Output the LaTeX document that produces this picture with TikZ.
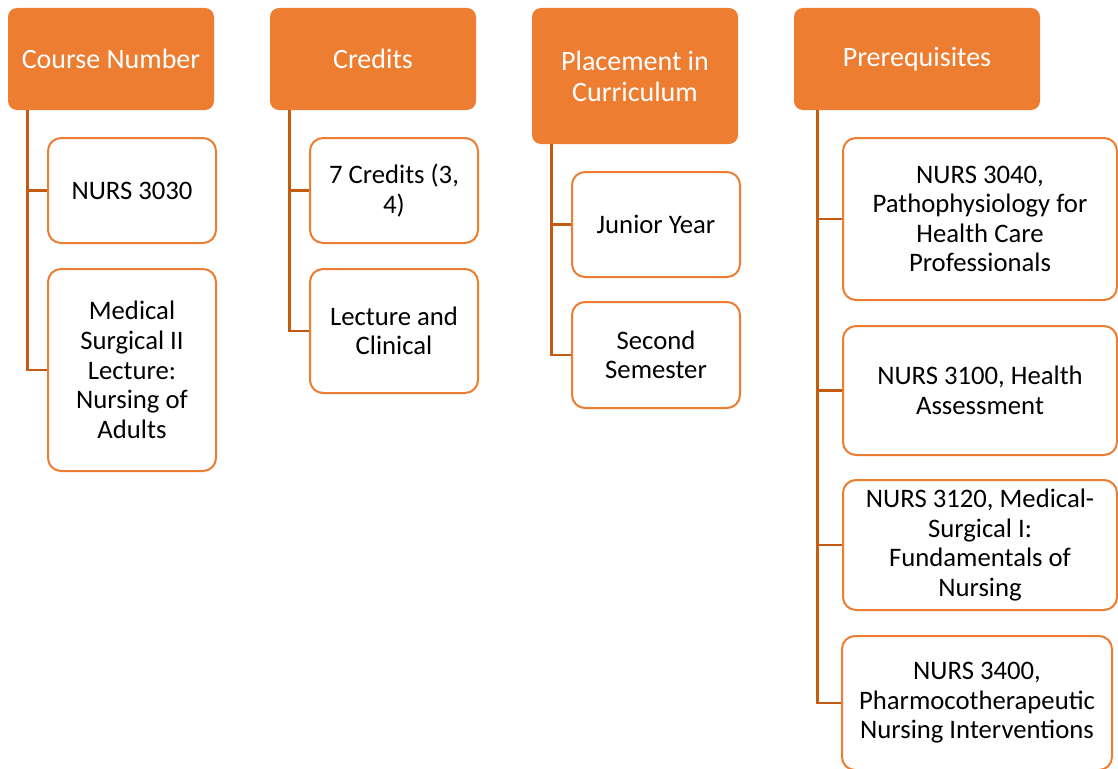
\documentclass[tikz,border=0pt]{standalone}
\usepackage{fontspec}
\setmainfont{Carlito}
\usepackage{tikz}
\definecolor{hdorange}{HTML}{ED7D31}
\definecolor{linkbrown}{HTML}{C55A11}

\begin{document}
\begin{tikzpicture}[x=1pt, y=-1pt,
    head/.style={rectangle, rounded corners=9pt, fill=hdorange, text=white, align=center,
      inner sep=0pt, minimum width=206pt, minimum height=102pt, font=\fontsize{28}{31}\selectfont},
    item/.style={rectangle, rounded corners=13pt, draw=hdorange, line width=2pt, fill=white,
      align=center, inner sep=0pt, minimum width=168pt, font=\fontsize{26.7}{29.6}\selectfont},
    link/.style={draw=linkbrown, line width=2.8pt}]
  \useasboundingbox (0,0) rectangle (1118,768);

  % column heads
  \node[head] (num) at (111,59) {Course Number};
  \node[head] (cred) at (373,59) {Credits};
  \node[head, minimum height=136pt] (place) at (635,76) {Placement in\\Curriculum};
  \node[head, minimum width=246pt] (pre) at (917,59) {Prerequisites};

  % entries under each head
  \node[item, minimum height=105pt] (num1) at (132,190.5) {NURS 3030};
  \node[item, minimum height=202pt] (num2) at (132,370) {Medical\\Surgical II\\Lecture:\\Nursing of\\Adults};
  \node[item, minimum height=105pt] (cred1) at (394,190.5) {7 Credits (3,\\4)};
  \node[item, minimum height=124pt] (cred2) at (394,331) {Lecture and\\Clinical};
  \node[item, minimum height=105pt] (place1) at (656,224.5) {Junior Year};
  \node[item, minimum height=106pt] (place2) at (656,355) {Second\\Semester};
  \node[item, minimum width=274pt, minimum height=162pt] (pre1) at (980,219) {NURS 3040,\\Pathophysiology for\\Health Care\\Professionals};
  \node[item, minimum width=274pt, minimum height=129pt] (pre2) at (980,390.5) {NURS 3100, Health\\Assessment};
  \node[item, minimum width=274pt, minimum height=130pt] (pre3) at (980,545) {NURS 3120, Medical-\\Surgical I:\\Fundamentals of\\Nursing};
  \node[item, minimum width=270pt, minimum height=134pt] (pre4) at (977,703) {NURS 3400,\\Pharmocotherapeutic\\Nursing Interventions};

  \foreach \h/\e/\d in {num/num1/20, num/num2/20, cred/cred1/20, cred/cred2/20,
                        place/place1/20, place/place2/20,
                        pre/pre1/24, pre/pre2/24, pre/pre3/24, pre/pre4/24}
    \draw[link] ([xshift=\d pt]\h.south west) |- (\e.west);
\end{tikzpicture}
\end{document}
